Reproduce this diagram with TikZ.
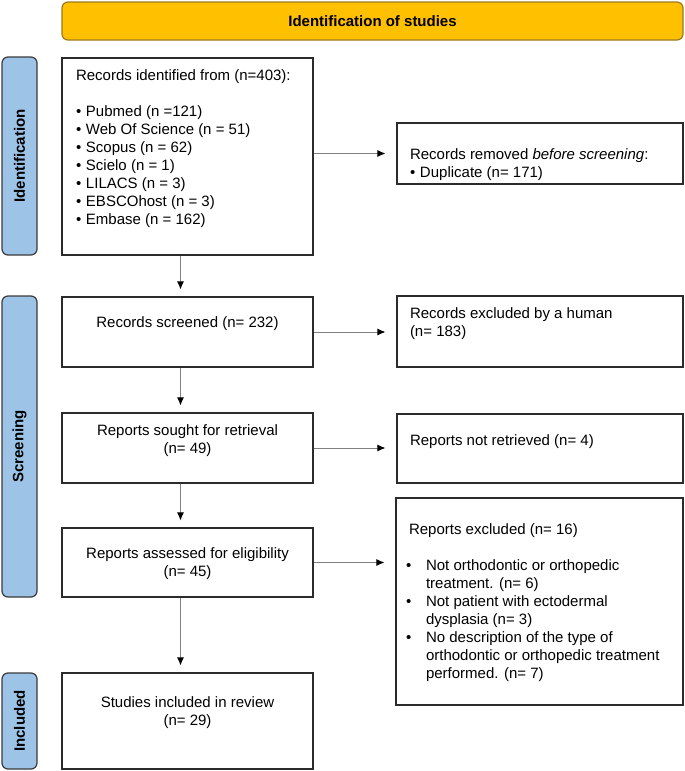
\documentclass[tikz,border=0pt]{standalone}
\usepackage{fontspec}
\setmainfont{Liberation Sans}
\usepackage{tikz}
\usepackage{xcolor}
\usetikzlibrary{
    arrows.meta,
    calc,
    positioning
}
\definecolor{hdrfill}{HTML}{FFC000}
\definecolor{hdrline}{HTML}{9C7A1E}
\definecolor{barfill}{HTML}{9DC3E6}
\definecolor{barline}{HTML}{3A3A3A}
\definecolor{boxline}{HTML}{2B2B2B}
\newcommand{\boxtxt}[4]{\begin{minipage}[c][#1][t]{#2}\vspace*{#3}#4\end{minipage}}
\newcommand{\bul}{\makebox[10pt][l]{\textbullet}}
\newcommand{\bulw}{\makebox[20pt][l]{\textbullet}}
\tikzset{hdr/.style={draw=hdrline, fill=hdrfill, line width=1.2pt, rounded corners=6pt, inner sep=0pt, font=\bfseries\fontsize{15}{18}\selectfont}}
\tikzset{bar/.style={draw=barline, fill=barfill, line width=1.2pt, rounded corners=6pt, rotate=90, minimum height=35pt, inner sep=0pt, font=\bfseries\fontsize{15}{18}\selectfont}}
\tikzset{box/.style={draw=boxline, fill=white, line width=1.2pt, inner sep=0pt, font=\fontsize{15}{18}\selectfont}}
\tikzset{vflow/.style={draw=black!50, line width=0.8pt, -{Latex[black, length=8pt, width=7pt]}, shorten >=7pt}}
\tikzset{hflow/.style={draw=black!50, line width=0.8pt, -{Latex[black, length=8pt, width=7pt]}, shorten >=11pt}}

\begin{document}
\begin{tikzpicture}[x=1pt, y=-1pt]
    \useasboundingbox (0, 0) rectangle (685, 771);

    \node[hdr, minimum width=621pt, minimum height=38pt] (head) at (372.5, 21) {Identification of studies};

    \node[bar, minimum width=198pt] (idbar) at (19.5, 156) {Identification};
    \node[bar, minimum width=301pt] (scbar) at (19.5, 446.5) {Screening};
    \node[bar, minimum width=96pt] (inbar) at (19.5, 721) {Included};

    % left column
    \node[box] (rec) at (187.5, 156.5) {\boxtxt{197pt}{251pt}{12pt}{\raggedright\leftskip=14pt
        Records identified from (n=403):\\[18pt]
        \bul Pubmed (n =121)\\
        \bul Web Of Science (n = 51)\\
        \bul Scopus (n = 62)\\
        \bul Scielo (n = 1)\\
        \bul LILACS (n = 3)\\
        \bul EBSCOhost (n = 3)\\
        \bul Embase (n = 162)}};
    \node[box] (scr) at (187.5, 332) {\boxtxt{70pt}{251pt}{20pt}{\centering
        Records screened (n= 232)}};
    \node[box] (sou) at (187.5, 448) {\boxtxt{70pt}{251pt}{12pt}{\centering
        Reports sought for retrieval\\(n= 49)}};
    \node[box] (ass) at (187.5, 562.5) {\boxtxt{69pt}{251pt}{20pt}{\centering
        Reports assessed for eligibility\\(n= 45)}};
    \node[box] (inc) at (187.5, 721) {\boxtxt{96pt}{251pt}{24pt}{\centering
        Studies included in review\\(n= 29)}};

    % right column
    \node[box] (rem) at (540, 153.5) {\boxtxt{61pt}{286pt}{26pt}{\raggedright\leftskip=13pt
        Records removed \textit{before screening}:\\
        \bul Duplicate (n= 171)}};
    \node[box] (exc) at (540, 331.5) {\boxtxt{71pt}{286pt}{12pt}{\raggedright\leftskip=13pt
        Records excluded by a human\\(n= 183)}};
    \node[box] (ret) at (540, 448.5) {\boxtxt{69pt}{286pt}{21pt}{\raggedright\leftskip=13pt
        Reports not retrieved (n= 4)}};
    \node[box] (rex) at (539.5, 601.5) {\boxtxt{207pt}{287pt}{26pt}{\raggedright\leftskip=10pt
        \hspace*{3pt}Reports excluded (n= 16)\\[18pt]
        \bulw Not orthodontic or orthopedic\\
        \hspace*{20pt}treatment. (n= 6)\\
        \bulw Not patient with ectodermal\\
        \hspace*{20pt}dysplasia (n= 3)\\
        \bulw No description of the type of\\
        \hspace*{20pt}orthodontic or orthopedic treatment\\
        \hspace*{20pt}performed. (n= 7)}};

    \draw
    ([xshift=-7pt]rec.south) edge[vflow] ([xshift=-7pt]scr.north)
    ([xshift=-7pt]scr.south) edge[vflow] ([xshift=-7pt]sou.north)
    ([xshift=-7pt]sou.south) edge[vflow] ([xshift=-7pt]ass.north)
    ([xshift=-7pt]ass.south) edge[vflow] ([xshift=-7pt]inc.north);

    \draw
    (rec.east |- rem.west) edge[hflow] (rem.west)
    (scr.east) edge[hflow] (scr.east -| exc.west)
    (sou.east) edge[hflow] (sou.east -| ret.west)
    (ass.east) edge[hflow] (ass.east -| rex.west);
\end{tikzpicture}
\end{document}
